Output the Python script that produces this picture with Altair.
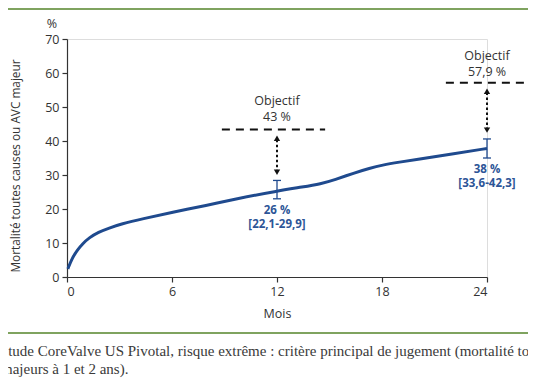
import altair as alt
import pandas as pd

# ---- data ----
months = [0.05, 0.3, 0.6, 0.9, 1.25, 1.8, 2.4, 3.1, 4.3, 6.0, 8.0, 9.6,
          12.0, 13.5, 14.5, 15.3, 16.4, 17.3, 18.0, 19.0, 20.0, 22.0, 24.0]
mortality = [2.4, 5.6, 8.0, 9.8, 11.5, 13.2, 14.4, 15.6, 17.1, 19.0, 21.1, 22.9,
             25.3, 26.5, 27.4, 28.6, 30.6, 32.0, 32.9, 33.8, 34.6, 36.2, 37.8]

eb_month = [12, 24]
eb_low = [23.0, 35.0]
eb_high = [28.4, 40.6]
eb_value_labels = ["26 %", "38 %"]
eb_ci_labels = ["[22,1-29,9]", "[33,6-42,3]"]
eb_value_y = [19.3, 31.5]
eb_ci_y = [15.2, 27.4]

target_month = [12, 24]
target_value = [43.4, 57.1]
target_x1 = [8.85, 21.65]
target_x2 = [14.75, 26.5]
target_labels = ["43 %", "57,9 %"]
target_word = ["Objectif", "Objectif"]
target_word_y = [51.8, 64.9]
target_label_y = [47.1, 60.2]
arrow_top = [40.8, 54.6]
arrow_bottom = [30.8, 43.2]

x_ticks = [0, 6, 12, 18, 24]
y_ticks = [0, 10, 20, 30, 40, 50, 60, 70]

x_title = "Mois"
y_title = "Mortalité toutes causes ou AVC majeur"
unit_label = "%"
caption_1 = "Étude CoreValve US Pivotal, risque extrême : critère principal de jugement (mortalité toutes causes ou AVC"
caption_2 = "majeurs à 1 et 2 ans)."

# ---- styles ----
FONT = "Open Sans"
CAPTION_FONT = "Liberation Serif"
BLUE = "#1f4a8e"
LABEL_BLUE = "#2d5597"
DARK = "#333333"
GREEN = "#7fa35f"

W, H = 420, 238
PAD_L, PAD_T = 59, 31

xs = alt.Scale(domain=[0, 24], nice=False)
ys = alt.Scale(domain=[0, 70], nice=False)

base_x_axis = alt.Axis(values=x_ticks, title=x_title, grid=False, domainColor=DARK,
                       tickColor=DARK, labelColor=DARK, titleColor=DARK, tickSize=5,
                       labelPadding=3, labelFont=FONT, labelFontSize=12.5, labelOverlap=False,
                       titleFont=FONT, titleFontSize=12.5, titleFontWeight="normal",
                       titlePadding=10, domainWidth=1.2, tickWidth=1.2)
base_y_axis = alt.Axis(values=y_ticks, title=None, grid=False, domainColor=DARK,
                       tickColor=DARK, labelColor=DARK, tickSize=5, labelPadding=3,
                       labelOverlap=False, labelFlush=False,
                       labelFont=FONT, labelFontSize=12.5, domainWidth=1.2, tickWidth=1.2)


def X(field):
    return alt.X(field, type="quantitative", scale=xs, axis=base_x_axis)


def Y(field):
    return alt.Y(field, type="quantitative", scale=ys, axis=base_y_axis)


curve_df = pd.DataFrame({"m": months, "v": mortality})
eb_df = pd.DataFrame({
    "m": eb_month, "lo": eb_low, "hi": eb_high,
    "m1": [m - 0.23 for m in eb_month], "m2": [m + 0.23 for m in eb_month],
    "vl": eb_value_labels, "cl": eb_ci_labels, "vy": eb_value_y, "cy": eb_ci_y,
})
tg_df = pd.DataFrame({
    "m": target_month, "v": target_value, "x1": target_x1, "x2": target_x2,
    "lab": target_labels, "word": target_word, "wy": target_word_y, "ly": target_label_y,
    "at": arrow_top, "ab": arrow_bottom,
})

curve = alt.Chart(curve_df).mark_line(color=BLUE, strokeWidth=3, interpolate="basis").encode(
    x=X("m"), y=Y("v"))

eb_rule = alt.Chart(eb_df).mark_rule(color=BLUE, strokeWidth=1.3).encode(
    x=X("m"), y=Y("lo"), y2="hi:Q")
eb_cap_lo = alt.Chart(eb_df).mark_rule(color=BLUE, strokeWidth=1.3).encode(
    x=X("m1"), x2="m2:Q", y=Y("lo"))
eb_cap_hi = alt.Chart(eb_df).mark_rule(color=BLUE, strokeWidth=1.3).encode(
    x=X("m1"), x2="m2:Q", y=Y("hi"))
eb_val = alt.Chart(eb_df).mark_text(font=FONT, fontSize=11.5, fontWeight="bold",
                                    color=LABEL_BLUE, baseline="middle").encode(
    x=X("m"), y=Y("vy"), text="vl:N")
eb_ci = alt.Chart(eb_df).mark_text(font=FONT, fontSize=11.5, fontWeight="bold",
                                   color=LABEL_BLUE, baseline="middle").encode(
    x=X("m"), y=Y("cy"), text="cl:N")

tg_line = alt.Chart(tg_df).mark_rule(color="#111111", strokeWidth=2, strokeDash=[8, 6]).encode(
    x=X("x1"), x2="x2:Q", y=Y("v"))
tg_word = alt.Chart(tg_df).mark_text(font=FONT, fontSize=12.5, color=DARK, baseline="middle").encode(
    x=X("m"), y=Y("wy"), text="word:N")
tg_lab = alt.Chart(tg_df).mark_text(font=FONT, fontSize=12.5, color=DARK, baseline="middle").encode(
    x=X("m"), y=Y("ly"), text="lab:N")
arrow_line = alt.Chart(tg_df).mark_rule(color="#111111", strokeWidth=2, strokeDash=[2.5, 2.5]).encode(
    x=X("m"), y=Y("ab"), y2="at:Q")
arrow_up = alt.Chart(tg_df).mark_point(shape="triangle-up", filled=True, color="#111111",
                                       size=40, opacity=1).encode(
    x=X("m"), y=Y("at"))
arrow_down = alt.Chart(tg_df).mark_point(shape="triangle-down", filled=True, color="#111111",
                                         size=40, opacity=1).encode(
    x=X("m"), y=Y("ab"))

# pixel-placed decorations (outside the plot area)
one = pd.DataFrame({"t": [y_title], "u": [unit_label], "c1": [caption_1], "c2": [caption_2]})
y_title_mark = alt.Chart(one).mark_text(font=FONT, fontSize=11.8, color=DARK, angle=270,
                                        baseline="middle", align="center").encode(
    x=alt.value(-51), y=alt.value(127), text="t:N")
unit_mark = alt.Chart(one).mark_text(font=FONT, fontSize=12.5, color=DARK, baseline="middle").encode(
    x=alt.value(-15), y=alt.value(-15), text="u:N")
green_top = alt.Chart(one).mark_rule(color=GREEN, strokeWidth=2).encode(
    x=alt.value(-PAD_L), x2=alt.value(470), y=alt.value(-PAD_T + 1))
green_bottom = alt.Chart(one).mark_rule(color=GREEN, strokeWidth=2).encode(
    x=alt.value(-PAD_L), x2=alt.value(470), y=alt.value(294))
cap1 = alt.Chart(one).mark_text(font=CAPTION_FONT, fontSize=15, color="#3a3a3a", align="left",
                                baseline="middle").encode(
    x=alt.value(-PAD_L - 9), y=alt.value(312), text="c1:N")
cap2 = alt.Chart(one).mark_text(font=CAPTION_FONT, fontSize=15, color="#3a3a3a", align="left",
                                baseline="middle").encode(
    x=alt.value(-PAD_L - 7), y=alt.value(330), text="c2:N")

chart = alt.layer(
    curve, green_top, green_bottom, cap1, cap2, y_title_mark, unit_mark,
    tg_line, arrow_line, arrow_up, arrow_down, tg_word, tg_lab,
    eb_rule, eb_cap_lo, eb_cap_hi, eb_val, eb_ci,
).properties(
    width=W, height=H,
    autosize=alt.AutoSizeParams(type="none"),
    padding={"left": PAD_L, "top": PAD_T, "right": 520 - PAD_L - W, "bottom": 370 - PAD_T - H},
).configure_view(stroke=None).configure(background="white")

chart.save("out.html", embed_options={"renderer": "svg", "actions": False})
